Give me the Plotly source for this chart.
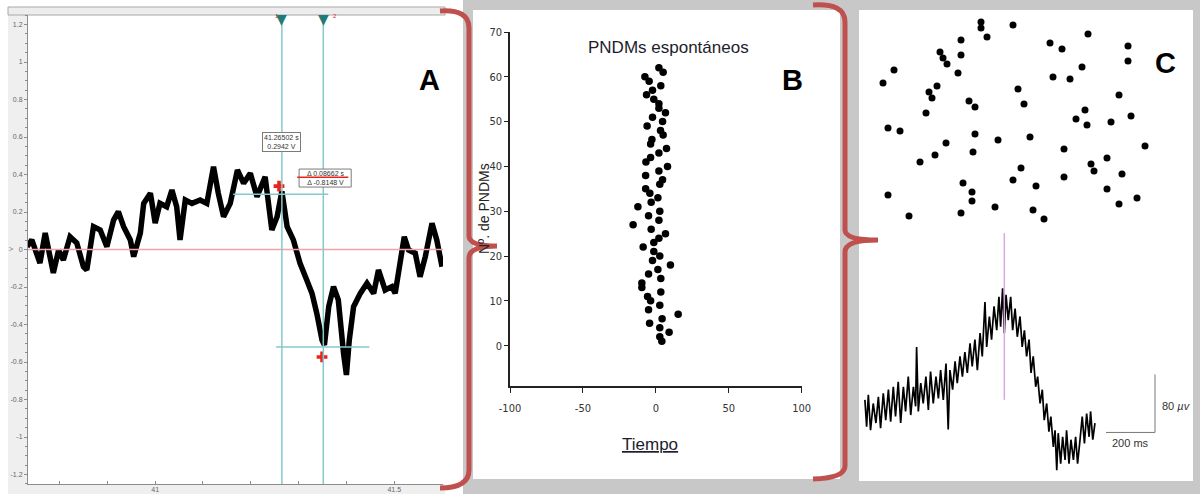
import plotly.graph_objects as go

W, H = 1200, 494

# ---------------- Panel A: voltage trace with two cursors ----------------
a_time = [40.732, 40.742, 40.759, 40.770, 40.780, 40.787, 40.798, 40.808, 40.822, 40.836,
          40.850, 40.857, 40.871, 40.885, 40.899, 40.913, 40.923, 40.934, 40.948, 40.955,
          40.969, 40.976, 40.990, 41.000, 41.010, 41.024, 41.035, 41.045, 41.052, 41.063,
          41.077, 41.094, 41.108, 41.122, 41.132, 41.143, 41.157, 41.172, 41.185, 41.199,
          41.213, 41.230, 41.244, 41.255, 41.265, 41.276, 41.289, 41.303, 41.317, 41.328,
          41.338, 41.349, 41.354, 41.363, 41.373, 41.383, 41.394, 41.400, 41.406, 41.415,
          41.429, 41.443, 41.457, 41.467, 41.481, 41.495, 41.502, 41.513, 41.521, 41.530,
          41.544, 41.554, 41.565, 41.579, 41.589, 41.600]
a_volt = [0.015, 0.051, -0.072, 0.088, -0.038, -0.125, -0.003, -0.056, 0.068, 0.035,
          -0.092, -0.109, 0.122, 0.104, 0.015, 0.157, 0.202, 0.122, 0.051, -0.038,
          0.088, 0.246, 0.300, 0.141, 0.246, 0.228, 0.317, 0.228, 0.051, 0.264,
          0.246, 0.264, 0.246, 0.442, 0.300, 0.175, 0.246, 0.424, 0.353, 0.406,
          0.282, 0.388, 0.104, 0.175, 0.310, 0.122, 0.051, -0.074, -0.163, -0.234,
          -0.340, -0.483, -0.509, -0.305, -0.198, -0.269, -0.554, -0.669, -0.483, -0.305,
          -0.234, -0.180, -0.234, -0.109, -0.216, -0.198, -0.234, -0.056, 0.068, -0.003,
          -0.020, -0.145, -0.038, 0.140, 0.051, -0.092]
a_peak_time = [41.259, 41.349]
a_peak_volt = [0.338, -0.573]
a_xtick_vals = [40.8, 40.9, 41.0, 41.1, 41.2, 41.3, 41.4, 41.5, 41.6]
a_xtick_text = ["", "", "41", "", "", "", "", "41.5", ""]
a_ytick_vals = [1.2, 1.0, 0.8, 0.6, 0.4, 0.2, 0.0, -0.2, -0.4, -0.6, -0.8, -1.0, -1.2]
a_ytick_text = ["1.2", "1", "0.8", "0.6", "0.4", "0.2", "0", "-0.2", "-0.4", "-0.6", "-0.8", "-1", "-1.2"]
cursor1_time = 41.26502
cursor1_volt = 0.2942
delta_time = 0.08662
delta_volt = -0.8148
cursor2_time = cursor1_time + delta_time
cursor2_volt = cursor1_volt + delta_volt

# ---------------- Panel B: spontaneous events raster ----------------
b_time = [4.1, 2.7, 9.1, 2.7, -4.3, 4.3, 15.3, -5.0, 2.7, -3.6,
          -5.7, 3.4, -9.6, -9.6, 3.4, -5.0, 1.4, 10.0, -2.3, 2.7,
          -1.4, -8.7, -1.4, 2.1, 6.6, -3.2, -15.6, 2.1, -5.0, 2.7,
          -12.3, -3.2, 1.4, -4.1, -7.0, 2.7, 4.6, -7.0, 2.1, 8.0,
          -6.8, -3.6, 2.1, 7.3, -3.6, -2.7, 5.0, 3.2, -6.0, 4.6,
          -2.3, 6.6, 2.1, 2.1, -1.4, -6.4, -2.3, 3.4, -4.6, -7.5,
          5.0, 2.1]
b_count = [1, 2, 3, 4, 5, 6, 7, 8, 9, 10,
           11, 12, 13, 14, 15, 16, 17, 18, 19, 20,
           21, 22, 23, 24, 25, 26, 27, 28, 29, 30,
           31, 32, 33, 34, 35, 36, 37, 38, 39, 40,
           41, 42, 43, 44, 45, 46, 47, 48, 49, 50,
           51, 52, 53, 54, 55, 56, 57, 58, 59, 60,
           61, 62]
b_xticks = [-100, -50, 0, 50, 100]
b_xtick_text = ["-100", "-50", "0", "50", "100"]
b_yticks = [0, 10, 20, 30, 40, 50, 60, 70]

# ---------------- Panel C: event map and averaged waveform ----------------
c_map_x = [121, 121, 153, 127, 101, 228, 190, 202, 268, 80, 101, 83, 87, 268, 34, 98, 222,
           193, 210, 23, 77, 69, 72, 158, 259, 109, 115, 164, 66, 225, 271, 216, 227, 251,
           28, 40, 115, 138, 170, 285, 86, 204, 113, 75, 60, 247, 231, 234, 161, 262, 204,
           153, 103, 176, 247, 112, 28, 277, 112, 259, 135, 173, 49, 101, 184]
c_map_y = [208, 202, 205, 193, 190, 196, 187, 181, 184, 178, 175, 172, 166, 169, 160, 157, 163,
           153, 151, 147, 144, 138, 132, 141, 135, 129, 123, 126, 117, 120, 114, 111, 105, 108,
           102, 99, 96, 90, 93, 84, 87, 81, 78, 75, 68, 72, 66, 59, 62, 56, 53,
           50, 47, 44, 41, 38, 35, 32, 29, 26, 23, 20, 14, 17, 11]

c_wave_ms = [-569, -562, -555, -546, -535, -524, -514, -505, -494, -484, -473, -464, -453, -444,
             -433, -423, -412, -403, -392, -382, -371, -362, -358, -351, -341, -331, -320, -310,
             -301, -290, -279, -269, -260, -249, -238, -229, -222, -211, -201, -192, -181, -171,
             -161, -151, -140, -131, -120, -110, -99, -90, -79, -72, -61, -52, -42, -31, -22,
             -15, -7, 0, 7, 16, 26, 34, 44, 53, 64, 73, 82, 91, 101, 109, 118, 128, 136, 146,
             155, 163, 173, 182, 190, 200, 207, 214, 220, 230, 238, 248, 254, 264, 272, 282,
             291, 299, 309, 318, 327, 336, 346, 352, 361, 370]
c_wave_uv = [14, -23, 21, -28, 9, -18, 18, -25, 23, -14, 28, -16, 32, -9,
             39, -18, 32, -2, 46, -7, 32, 5, 87, -2, 37, 9, 46, 0,
             53, 9, 46, 16, 55, 14, 64, -27, 55, 28, 67, 37, 74, 46,
             80, 51, 92, 60, 97, 55, 106, 74, 149, 87, 129, 97, 143, 110, 156,
             115, 168, 106, 159, 124, 156, 110, 140, 101, 129, 87, 110, 74, 97, 51, 74, 32, 46, 9,
             28, -14, 9, -30, -9, -51, -28, -83, -32, -74, -37, -69, -28, -74, -41, -69,
             -37, -74, -41, -9, -46, -5, -37, -2, -41, -18]
c_spike_ms = 0
c_spike_span_uv = [14, 244]
c_scale_ms = 200
c_scale_uv = 80
c_scale_corner = (615, -31)


def fx(p):
    return p / W


def fy(p):
    return 1 - p / H


def path(points):
    """Build an SVG path in paper units from (cmd, x, y, ...) pixel tuples."""
    out = []
    for seg in points:
        cmd, coords = seg[0], seg[1:]
        pairs = [f"{fx(coords[i]):.5f},{fy(coords[i + 1]):.5f}" for i in range(0, len(coords), 2)]
        out.append(cmd + " " + " ".join(pairs))
    return " ".join(out)


fig = go.Figure()

# Panel A traces
fig.add_trace(go.Scatter(x=a_time, y=a_volt, mode="lines",
                         line=dict(color="black", width=5.5), xaxis="x", yaxis="y",
                         hoverinfo="skip"))
fig.add_trace(go.Scatter(x=a_peak_time, y=a_peak_volt, mode="markers",
                         marker=dict(symbol="cross", size=9, color="#e8241c"),
                         xaxis="x", yaxis="y"))

# Panel B raster
fig.add_trace(go.Scatter(x=b_time, y=b_count, mode="markers",
                         marker=dict(size=7.5, color="black"), xaxis="x2", yaxis="y2"))

# Panel C map and waveform
fig.add_trace(go.Scatter(x=c_map_x, y=c_map_y, mode="markers",
                         marker=dict(size=7, color="black"), xaxis="x3", yaxis="y3"))
fig.add_trace(go.Scatter(x=c_wave_ms, y=c_wave_uv, mode="lines",
                         line=dict(color="black", width=1.7), xaxis="x4", yaxis="y4"))

shapes = []
# background panels
shapes.append(dict(type="rect", xref="paper", yref="paper", layer="below",
                   x0=fx(463), x1=fx(1200), y0=fy(494), y1=fy(0),
                   fillcolor="#c8c8c8", line=dict(width=0)))
shapes.append(dict(type="rect", xref="paper", yref="paper", layer="below",
                   x0=fx(473), x1=fx(840), y0=fy(479), y1=fy(10),
                   fillcolor="white", line=dict(width=0)))
shapes.append(dict(type="rect", xref="paper", yref="paper", layer="below",
                   x0=fx(859), x1=fx(1193), y0=fy(481), y1=fy(10),
                   fillcolor="white", line=dict(width=0)))
# panel A chrome
shapes.append(dict(type="rect", xref="paper", yref="paper", layer="below",
                   x0=fx(8), x1=fx(28), y0=fy(494), y1=fy(15),
                   fillcolor="#efefef", line=dict(width=0)))
shapes.append(dict(type="rect", xref="paper", yref="paper", layer="below",
                   x0=fx(28), x1=fx(445), y0=fy(494), y1=fy(484),
                   fillcolor="#efefef", line=dict(width=0)))
shapes.append(dict(type="rect", xref="paper", yref="paper", layer="below",
                   x0=fx(8), x1=fx(445), y0=fy(15), y1=fy(7),
                   fillcolor="#ededed", line=dict(width=1, color="#a8a8a8")))
# zero line
shapes.append(dict(type="line", xref="x domain", yref="y", x0=0, x1=1, y0=0, y1=0,
                   line=dict(color="#f3a3a3", width=1.5)))
# cursors
for t in (cursor1_time, cursor2_time):
    shapes.append(dict(type="line", xref="x", yref="y domain", x0=t, x1=t, y0=0, y1=1,
                       line=dict(color="#86c9c9", width=1.5)))
shapes.append(dict(type="line", xref="x", yref="y", x0=41.163, x1=41.362,
                   y0=cursor1_volt, y1=cursor1_volt, line=dict(color="#86c9c9", width=1.5)))
shapes.append(dict(type="line", xref="x", yref="y", x0=41.253, x1=41.448,
                   y0=cursor2_volt, y1=cursor2_volt, line=dict(color="#86c9c9", width=1.5)))
# delta read-out box, struck through in red
shapes.append(dict(type="rect", xref="x", yref="y", layer="above",
                   x0=41.301, x1=41.410, y0=0.333, y1=0.429,
                   fillcolor="white", line=dict(color="#7a7a7a", width=1)))
shapes.append(dict(type="line", xref="x", yref="y", x0=41.297, x1=41.404,
                   y0=0.385, y1=0.385, line=dict(color="#e8241c", width=1.5), layer="above"))
# panel C spike marker and scale bars
shapes.append(dict(type="line", xref="x4", yref="y4", x0=c_spike_ms, x1=c_spike_ms,
                   y0=c_spike_span_uv[0], y1=c_spike_span_uv[1],
                   line=dict(color="#dca6e6", width=1.5)))
cx, cy = c_scale_corner
shapes.append(dict(type="line", xref="x4", yref="y4", x0=cx, x1=cx, y0=cy, y1=cy + c_scale_uv,
                   line=dict(color="#777777", width=1)))
shapes.append(dict(type="line", xref="x4", yref="y4", x0=cx - c_scale_ms, x1=cx, y0=cy, y1=cy,
                   line=dict(color="#777777", width=1)))
# braces
brace = dict(color="#c0504d", width=5)
shapes.append(dict(type="path", xref="paper", yref="paper", layer="above", line=brace,
                   path=path([("M", 440, 11), ("Q", 469, 9, 469, 28), ("L", 469, 236),
                              ("Q", 469, 246, 497, 246), ("M", 497, 246),
                              ("Q", 469, 246, 469, 258), ("L", 469, 470),
                              ("Q", 469, 488, 440, 488)])))
shapes.append(dict(type="path", xref="paper", yref="paper", layer="above", line=brace,
                   path=path([("M", 813, 5), ("Q", 845, 3, 845, 22), ("L", 845, 230),
                              ("Q", 845, 240, 878, 240), ("M", 878, 240),
                              ("Q", 845, 240, 845, 252), ("L", 845, 466),
                              ("Q", 845, 478, 813, 479)])))

ann = []
ann.append(dict(x=cursor1_time, y=0.571, xref="x", yref="y", showarrow=False,
                text=f"{cursor1_time:.5f} s<br>{cursor1_volt:.4f} V",
                font=dict(family="Liberation Sans", size=7, color="#333333"),
                bgcolor="white", bordercolor="#7a7a7a", borderwidth=1, borderpad=1))
ann.append(dict(x=41.3555, y=0.381, xref="x", yref="y", showarrow=False,
                text=f"Δ {delta_time:.5f} s<br>Δ {delta_volt:.4f} V",
                font=dict(family="Liberation Sans", size=7, color="#333333")))
# cursor handles in the top strip
for t in (cursor1_time, cursor2_time):
    ann.append(dict(x=t, y=fy(9), xref="x", yref="paper", showarrow=False,
                    text="▼", font=dict(family="DejaVu Sans", size=14, color="#1f7a78")))
ann.append(dict(x=fx(273), y=fy(11), xref="paper", yref="paper", showarrow=False,
                text="1", font=dict(family="Liberation Sans", size=6, color="#8a3a3a")))
ann.append(dict(x=fx(331), y=fy(11), xref="paper", yref="paper", showarrow=False,
                text="2", font=dict(family="Liberation Sans", size=6, color="#e8241c")))
ann.append(dict(x=fx(6), y=fy(249), xref="paper", yref="paper", showarrow=False,
                text="V", textangle=-90, font=dict(family="Liberation Sans", size=6, color="#666666")))
for letter, x, y in (("A", 429, 62), ("B", 805, 62), ("C", 1178, 45)):
    ann.append(dict(x=fx(x), y=fy(y), xref="paper", yref="paper", showarrow=False,
                    text=f"<b>{letter}</b>",
                    font=dict(family="Liberation Sans", size=29, color="black")))
ann.append(dict(x=fx(668), y=fy(36), xref="paper", yref="paper", showarrow=False,
                text="PNDMs espontáneos",
                font=dict(family="Liberation Sans", size=17, color="#1d1d2b")))
ann.append(dict(x=fx(484), y=fy(209), xref="paper", yref="paper", showarrow=False,
                text="Nº. de PNDMs", textangle=-90,
                font=dict(family="Liberation Sans", size=14, color="#222222")))
ann.append(dict(x=fx(650), y=fy(456), xref="paper", yref="paper", showarrow=False,
                text="<u>Tiempo</u>",
                font=dict(family="Liberation Sans", size=17, color="#1d1d2b")))
ann.append(dict(x=cx - c_scale_ms / 2, y=cy - 15, xref="x4", yref="y4", showarrow=False,
                text=f"{c_scale_ms} ms",
                font=dict(family="Liberation Sans", size=11, color="#333333")))
ann.append(dict(x=cx + 20, y=cy + 36, xref="x4", yref="y4", showarrow=False, xanchor="left",
                text=f"{c_scale_uv} <i>µv</i>",
                font=dict(family="Liberation Sans", size=11, color="#333333")))

a_font = dict(family="Liberation Sans", size=7, color="#666666")
b_font = dict(family="DejaVu Sans Condensed, Liberation Sans", size=11, color="#333333")

fig.update_layout(
    width=W, height=H, autosize=False, margin=dict(l=0, r=0, t=0, b=0, pad=0, autoexpand=False),
    paper_bgcolor="white", plot_bgcolor="rgba(0,0,0,0)", showlegend=False,
    shapes=shapes, annotations=ann,
    xaxis=dict(domain=[fx(28), fx(443)], range=[40.734, 41.602], anchor="y", automargin=False,
               showline=True, linecolor="#8c8c8c", ticks="inside", ticklen=3,
               tickcolor="#8c8c8c", tickvals=a_xtick_vals, ticktext=a_xtick_text,
               tickfont=a_font, ticklabelstandoff=-1, showgrid=False, zeroline=False),
    yaxis=dict(domain=[fy(484), fy(15)], range=[-1.2507, 1.2507], anchor="x", automargin=False,
               showline=True, linecolor="#8c8c8c", ticks="outside", ticklen=3,
               tickcolor="#8c8c8c", tickvals=a_ytick_vals, ticktext=a_ytick_text,
               tickfont=a_font, showgrid=False, zeroline=False,
               minor=dict(dtick=0.05, ticks="outside", ticklen=2, tickcolor="#8c8c8c",
                          showgrid=False)),
    xaxis2=dict(domain=[fx(510), fx(801.7)], range=[-100, 100], anchor="y2", automargin=False,
                showline=True, linecolor="#222222", linewidth=1.5, ticks="outside",
                ticklen=5, tickcolor="#222222", tickvals=b_xticks, ticktext=b_xtick_text,
                tickfont=b_font, ticklabelstandoff=6, showgrid=False, zeroline=False),
    yaxis2=dict(domain=[fy(386), fy(32)], range=[-9, 70], anchor="x2", automargin=False,
                showline=True, linecolor="#222222", linewidth=1.5, ticks="outside",
                ticklen=4, tickcolor="#222222", tickvals=b_yticks, tickfont=b_font,
                showgrid=False, zeroline=False),
    xaxis3=dict(domain=[fx(860), fx(1192)], range=[0, 332], anchor="y3", visible=False),
    yaxis3=dict(domain=[fy(230), fy(10)], range=[0, 220], anchor="x3", visible=False),
    xaxis4=dict(domain=[fx(860), fx(1192)], range=[-589, 766], anchor="y4", visible=False),
    yaxis4=dict(domain=[fy(480), fy(225)], range=[-96.6, 255.2], anchor="x4", visible=False),
)

fig.write_html("out.html")
